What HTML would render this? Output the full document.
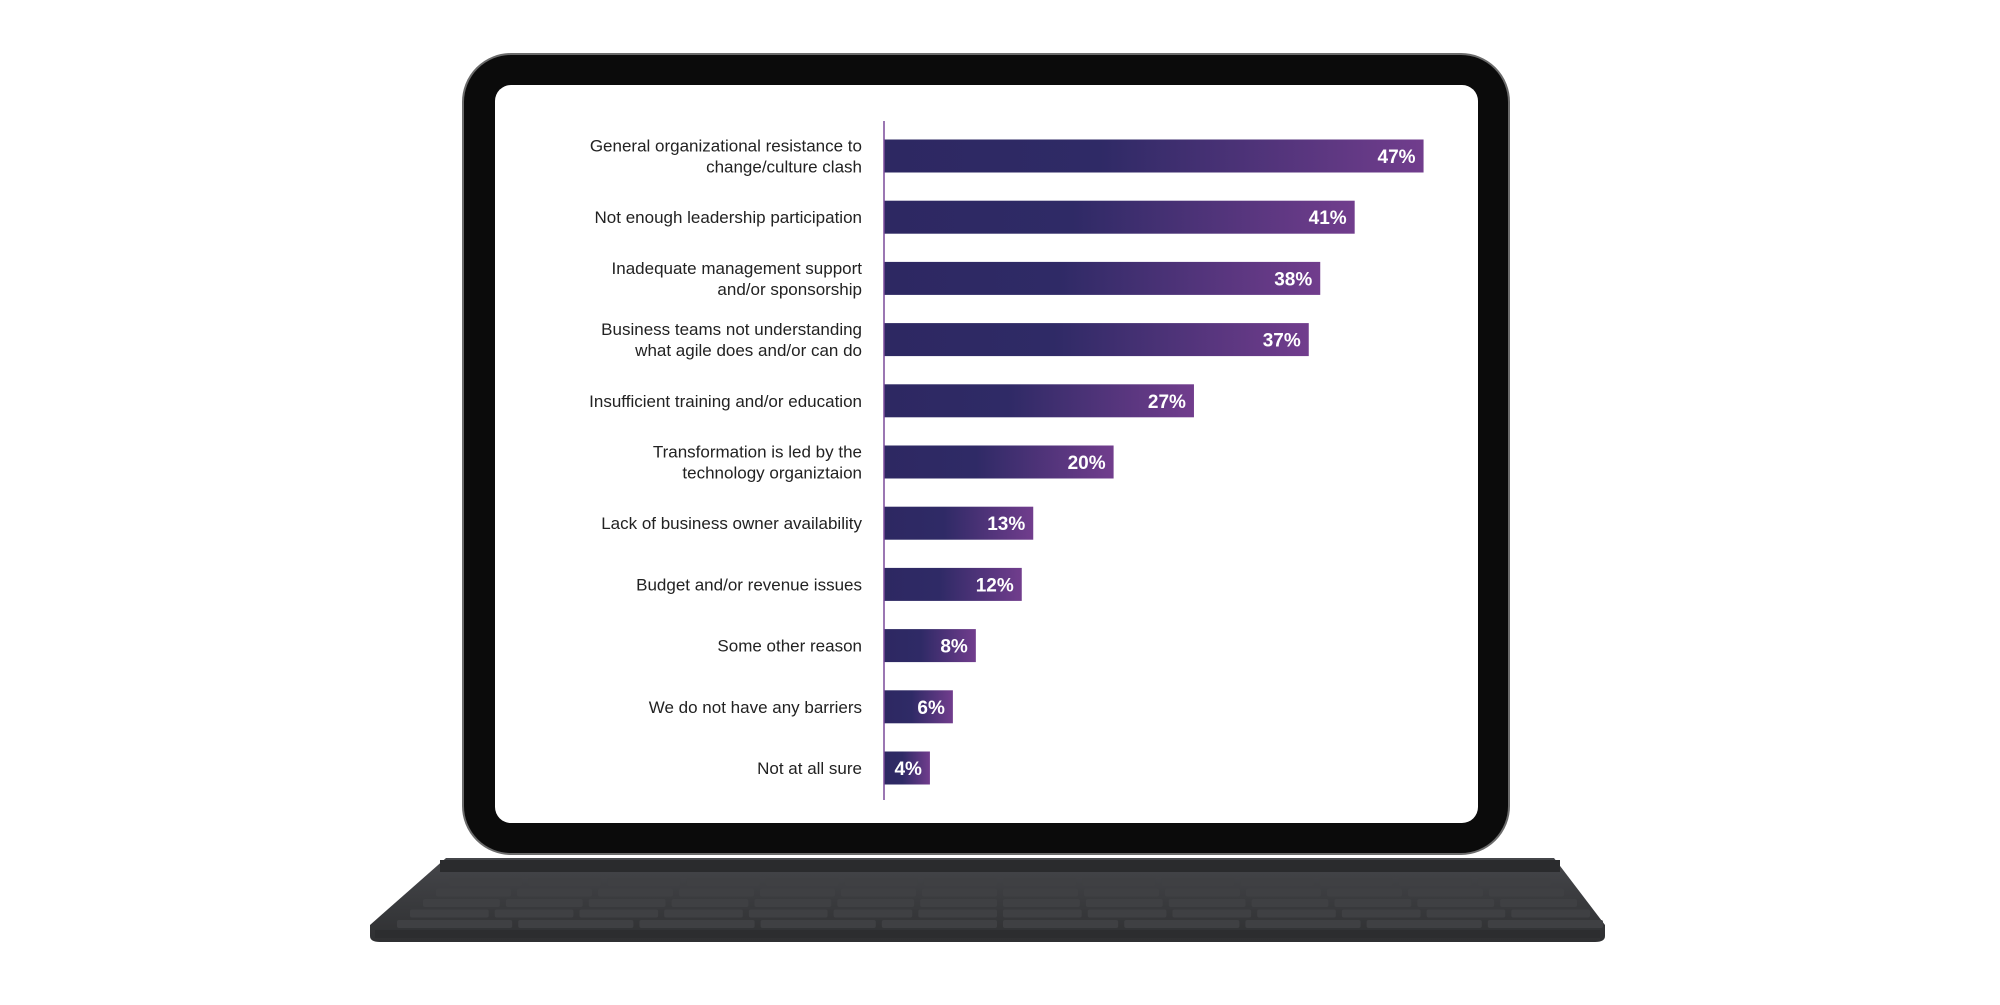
<!DOCTYPE html>
<html><head><meta charset="utf-8"><style>
html,body{margin:0;padding:0;background:#fff;}
body{width:2000px;height:1000px;position:relative;overflow:hidden;font-family:"Liberation Sans",sans-serif;}
</style></head><body>
<svg width="2000" height="1000" viewBox="0 0 2000 1000">
<defs>
<linearGradient id="barg" x1="0" x2="1" y1="0" y2="0">
<stop offset="0" stop-color="#2d2862"/><stop offset="0.4" stop-color="#2f2a66"/><stop offset="1" stop-color="#713d8d"/>
</linearGradient>
<linearGradient id="kb" x1="0" x2="0" y1="0" y2="1">
<stop offset="0" stop-color="#45464a"/><stop offset="1" stop-color="#2f3032"/>
</linearGradient>
</defs>
<g>
<path d="M446,858 L1554,858 L1605,925 L1605,936 Q1605,942 1595,942 L380,942 Q370,942 370,936 L370,925 Z" fill="url(#kb)"/>
<rect x="440" y="860" width="1120" height="12" fill="#2a2b2d"/>
<g id="keys"></g>
<rect x="375" y="930" width="1225" height="8" fill="#2c2d2f"/>
</g>
<g>
<rect x="463" y="54" width="1046" height="800" rx="48" fill="#0b0b0b" stroke="#6b6b6b" stroke-width="2"/>
<rect x="495" y="85" width="983" height="738" rx="16" fill="#ffffff"/>
</g>
<g id="chart"></g>
</svg>
<script>
const categories = [
 ["General organizational resistance to","change/culture clash"],
 ["Not enough leadership participation"],
 ["Inadequate management support","and/or sponsorship"],
 ["Business teams not understanding","what agile does and/or can do"],
 ["Insufficient training and/or education"],
 ["Transformation is led by the","technology organiztaion"],
 ["Lack of business owner availability"],
 ["Budget and/or revenue issues"],
 ["Some other reason"],
 ["We do not have any barriers"],
 ["Not at all sure"]
];
const values = [47,41,38,37,27,20,13,12,8,6,4];
const valueLabels = ["47%","41%","38%","37%","27%","20%","13%","12%","8%","6%","4%"];

const NS="http://www.w3.org/2000/svg";
const g=document.getElementById('chart');
const x0=884, pxPer=11.48, y0=156, step=61.2, bh=33;
const xScale=v=>x0+v*pxPer;
const yScale=i=>y0+i*step;
function mk(t,a){const e=document.createElementNS(NS,t);for(const k in a)e.setAttribute(k,a[k]);return e;}
categories.forEach((c,i)=>{
 const cy=yScale(i);
 const r=mk('rect',{x:x0,y:cy-bh/2,width:xScale(values[i])-x0,height:bh,fill:'url(#barg)'});
 
 
 g.appendChild(r);
 const vt=mk('text',{x:xScale(values[i])-8,y:cy+7,'text-anchor':'end','font-size':19,'font-weight':'bold',fill:'#fff'});
 vt.textContent=valueLabels[i];
 
 
 g.appendChild(vt);
 const lt=mk('text',{x:862,'text-anchor':'end','font-size':17,fill:'#222'});
 
 
 const n=c.length;
 c.forEach((line,j)=>{const ts=mk('tspan',{x:862,y:cy+6+(j-(n-1)/2)*21});ts.textContent=line;lt.appendChild(ts);});
 g.appendChild(lt);
});
const ax=mk('line',{x1:x0,x2:x0,y1:121,y2:800,stroke:'#7a4a9a','stroke-width':1.5});


g.appendChild(ax);
const kg=document.getElementById('keys');
for(let r=0;r<5;r++){
 const y=878+r*10.5;
 const left=446-r*13, right=1554+r*13;
 const n=r===4?10:14;
 const w=(right-left)/n;
 for(let k=0;k<n;k++){
  const kr=mk('rect',{x:left+k*w+3,y:y,width:w-6,height:8,rx:2,fill:'#3f4043'});
  kg.appendChild(kr);
 }
}
</script>
</body></html>
